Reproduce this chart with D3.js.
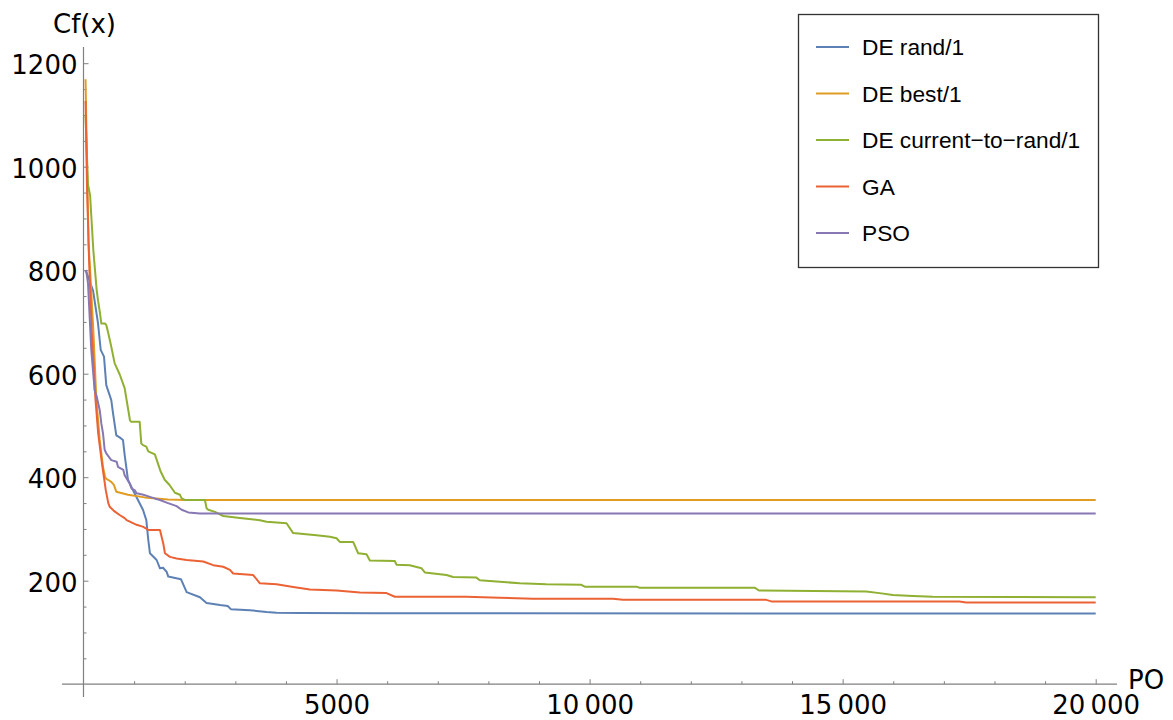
<!DOCTYPE html>
<html>
<head>
<meta charset="utf-8">
<script src="https://cdn.jsdelivr.net/npm/d3@7"></script>
<style>
  html, body { margin: 0; padding: 0; background: #fff; }
  svg { display: block; }
</style>
</head>
<body>
<svg id="chart" width="1173" height="720"></svg>
<script>
// ---- data ----
const seriesNames = ["DE rand/1", "DE best/1", "DE current\u2212to\u2212rand/1", "GA", "PSO"];
const seriesColors = ["#5E81B5", "#E19C24", "#8FB032", "#EB6235", "#8778B3"];

const deRand = [[40,800],[56,797],[110,782],[190,760],[286,698],[340,646],[405,633],[450,578],[549,549],[583,524],[648,481],[714,477],[780,472],[813,443],[879,395],[977,375],[1076,356],[1175,337],[1241,317],[1280,279],[1313,253],[1445,240],[1511,224],[1572,225],[1643,217],[1675,208],[1925,203],[2038,178],[2300,168],[2432,157],[2695,153],[2850,151],[2910,145],[3288,143],[3618,139.5],[3815,138],[4275,137.5],[5790,137],[20000,136.5]];

const deBest = [[40,1169],[70,1000],[100,850],[125,810],[194,684],[253,552],[320,472],[385,420],[425,401],[450,397],[549,391],[600,385],[648,372],[879,366],[1208,361],[1669,357],[2000,356],[20000,356]];

const deCurr = [[40,1100],[89,965],[130,945],[194,839],[260,762],[286,742],[326,717],[352,697],[425,697],[450,694],[490,678],[549,652],[616,620],[714,599],[813,572],[918,510],[944,507],[1110,507],[1142,465],[1175,462],[1241,459],[1280,450],[1410,444],[1500,418],[1520,412],[1604,395],[1700,385],[1807,370],[1906,366],[1939,359],[2004,356],[2399,356],[2432,340],[2465,337],[2597,333],[2761,325],[3090,321],[3485,317],[3617,314],[4012,311],[4143,292],[4604,288],[4868,285],[5000,282],[5065,275],[5328,275],[5427,253],[5592,251],[5658,239],[6151,238],[6184,231],[6447,230],[6679,224],[6745,216],[7172,211],[7303,207],[7764,206],[7830,201],[8225,198],[8620,195],[9147,193],[9838,192],[9904,188.5],[10924,188.5],[10990,186.5],[13261,186.5],[13346,181],[15466,179],[15729,176],[15992,172.5],[16387,170.5],[16782,169],[20000,168]];

const ga = [[40,1127],[70,960],[110,820],[161,684],[235,552],[290,485],[360,430],[440,375],[490,350],[517,343],[600,335],[714,327],[813,321],[853,317],[1050,308],[1182,304],[1280,298],[1511,298],[1576,272],[1609,253],[1708,246],[1840,243],[2038,240],[2366,237],[2563,230],[2761,227],[2893,221],[2958,214],[3353,211],[3485,195],[3815,193],[4143,188],[4473,183],[5000,181],[5460,177],[5987,176],[6151,169],[7567,169],[8225,167],[8883,165],[10462,165],[10660,163],[13491,163],[13590,160],[17307,160],[17440,158],[20000,158]];

const pso = [[40,800],[60,795],[89,775],[154,646],[220,568],[260,556],[320,530],[352,504],[385,485],[418,453],[450,446],[549,433],[655,430],[681,420],[787,414],[813,404],[912,388],[951,378],[1010,375],[1050,369],[1182,366],[1313,362],[1406,359],[1511,356],[1643,351],[1840,344],[1939,337],[2070,332],[2300,330],[20000,330]];

const seriesData = [deRand, deBest, deCurr, ga, pso];

const yMajorTicks = [200, 400, 600, 800, 1000, 1200];
const yMinorTicks = [50,100,150,250,300,350,450,500,550,650,700,750,850,900,950,1050,1100,1150];
const xMajorTicks = [5000, 10000, 15000, 20000];
const xMinorTicks = [1000,2000,3000,4000,6000,7000,8000,9000,11000,12000,13000,14000,16000,17000,18000,19000];
const xTickLabels = ["5000", "10\u2009000", "15\u2009000", "20\u2009000"];
const xAxisTitle = "PO";
const yAxisTitle = "Cf(x)";

// ---- drawing ----
const svg = d3.select("#chart");
const x = d3.scaleLinear().domain([0, 20000]).range([83.5, 1095.7]);
const y = d3.scaleLinear().domain([0, 1200]).range([684.2, 63.2]);

const axisColor = "#808080";
const tickFont = "DejaVu Sans, Verdana, sans-serif";

// axis lines (Mathematica style, extended past plot range)
svg.append("line").attr("x1", 62).attr("x2", 1117).attr("y1", y(0)).attr("y2", y(0))
  .attr("stroke", axisColor).attr("stroke-width", 1.2);
svg.append("line").attr("x1", x(0)).attr("x2", x(0)).attr("y1", 47).attr("y2", 697)
  .attr("stroke", axisColor).attr("stroke-width", 1.2);

// y axis ticks
const gy = svg.append("g").attr("transform", `translate(${x(0)},0)`);
gy.call(d3.axisLeft(y).tickValues(yMinorTicks).tickSize(-3).tickFormat(""));
gy.call(g => g.select(".domain").remove());
const gy2 = svg.append("g").attr("transform", `translate(${x(0)},0)`);
gy2.call(d3.axisLeft(y).tickValues(yMajorTicks).tickSize(-5).tickPadding(6).tickFormat(d3.format("d")));
gy2.select(".domain").remove();
[gy, gy2].forEach(g => g.selectAll(".tick line").attr("stroke", axisColor).attr("stroke-width", 1));
gy2.selectAll(".tick text").attr("font-family", tickFont).attr("font-size", 26).attr("fill", "#000").attr("dy", "0.4em");

// x axis ticks
const gx = svg.append("g").attr("transform", `translate(0,${y(0)})`);
gx.call(d3.axisBottom(x).tickValues(xMinorTicks).tickSize(-3).tickFormat(""));
gx.select(".domain").remove();
const gx2 = svg.append("g").attr("transform", `translate(0,${y(0)})`);
gx2.call(d3.axisBottom(x).tickValues(xMajorTicks).tickSize(-5).tickPadding(11)
  .tickFormat((d, i) => xTickLabels[i]));
gx2.select(".domain").remove();
[gx, gx2].forEach(g => g.selectAll(".tick line").attr("stroke", axisColor).attr("stroke-width", 1));
gx2.selectAll(".tick text").attr("font-family", tickFont).attr("font-size", 26).attr("fill", "#000");

// axis titles
svg.append("text").attr("x", 53).attr("y", 33).attr("font-family", tickFont).attr("font-size", 26)
  .attr("fill", "#000").text(yAxisTitle);
svg.append("text").attr("x", 1128).attr("y", 689).attr("font-family", tickFont).attr("font-size", 26)
  .attr("fill", "#000").text(xAxisTitle);

// lines
const line = d3.line().x(d => x(d[0])).y(d => y(d[1]));
seriesData.forEach((data, i) => {
  svg.append("path").datum(data).attr("d", line)
    .attr("fill", "none").attr("stroke", seriesColors[i]).attr("stroke-width", 2)
    .attr("stroke-linejoin", "round");
});

// legend
const lg = svg.append("g");
lg.append("rect").attr("x", 798.5).attr("y", 14.5).attr("width", 300).attr("height", 253)
  .attr("fill", "#fff").attr("stroke", "#333").attr("stroke-width", 1.3);
seriesNames.forEach((name, i) => {
  const cy = 47 + i * 46.5;
  lg.append("line").attr("x1", 816).attr("x2", 849).attr("y1", cy).attr("y2", cy)
    .attr("stroke", seriesColors[i]).attr("stroke-width", 2);
  lg.append("text").attr("x", 862).attr("y", cy + 8).attr("font-family", "Liberation Sans, Arial, sans-serif")
    .attr("font-size", 22.7).attr("fill", "#000").text(name);
});
</script>
</body>
</html>
